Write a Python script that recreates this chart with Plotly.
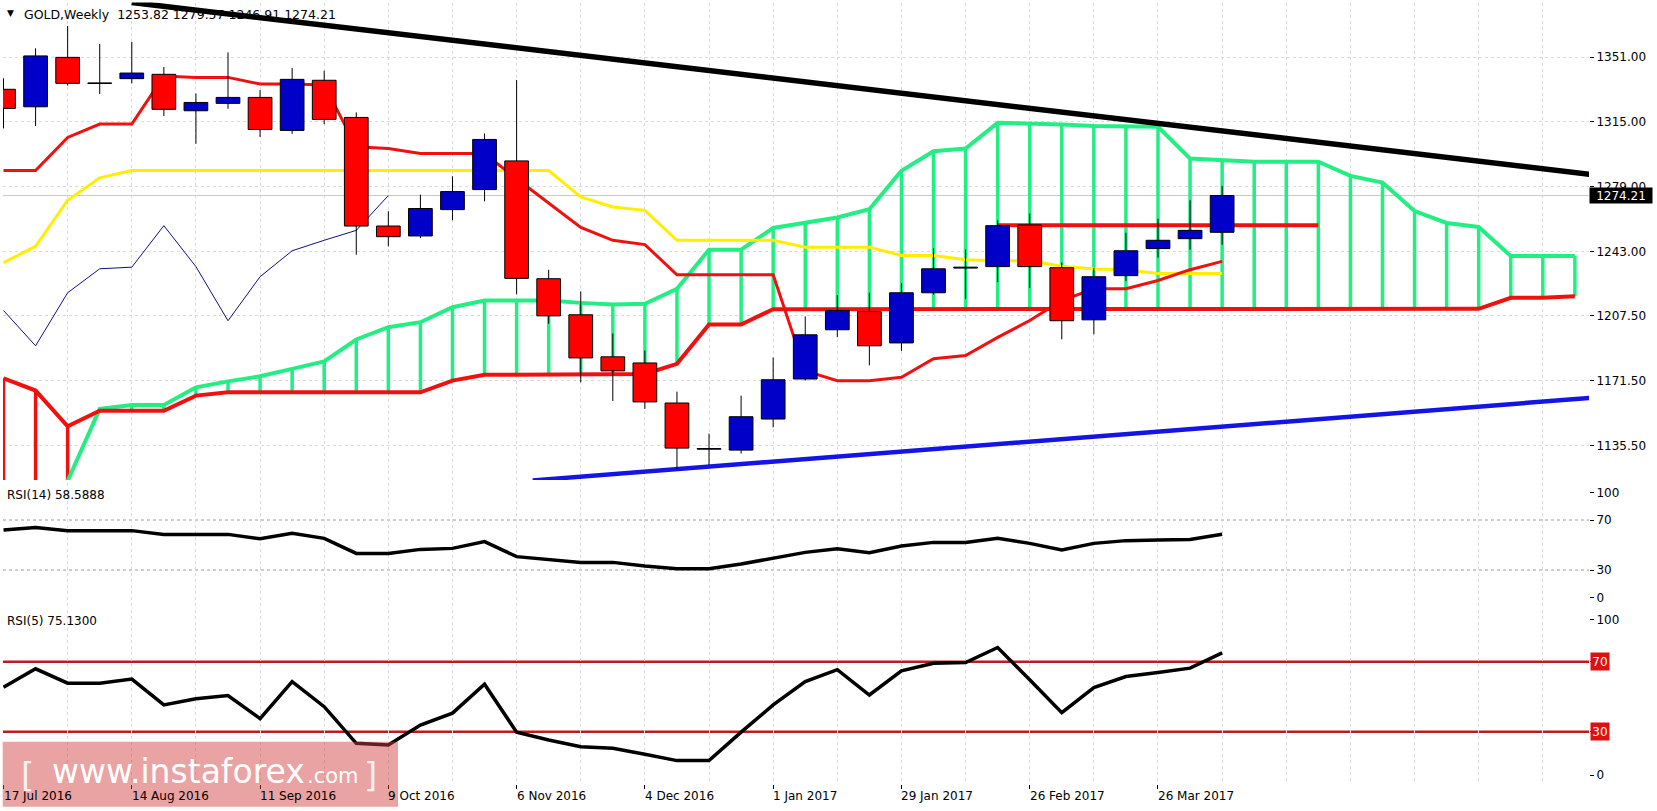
import plotly.graph_objects as go

# ---------------- data ----------------
date_labels = ["17 Jul 2016", "14 Aug 2016", "11 Sep 2016", "9 Oct 2016", "6 Nov 2016",
               "4 Dec 2016", "1 Jan 2017", "29 Jan 2017", "26 Feb 2017", "26 Mar 2017"]
date_bar = [0, 4, 8, 12, 16, 20, 24, 28, 32, 36]

opens = [1333.1, 1323.4, 1350.8, 1336.3, 1339.0, 1341.4, 1321.2, 1325.3, 1328.6, 1310.3,
         1338.1, 1317.5, 1257.3, 1251.8, 1266.4, 1277.5, 1293.4, 1228.1, 1208.1, 1184.8,
         1181.4, 1159.2, 1133.6, 1133.1, 1150.3, 1172.5, 1199.8, 1209.9, 1192.5, 1220.3,
         1234.0, 1234.8, 1257.9, 1234.2, 1205.3, 1229.8, 1244.8, 1250.3, 1253.82]
highs = [1339.2, 1355.8, 1368.2, 1358.2, 1359.3, 1345.4, 1330.8, 1353.6, 1332.7, 1344.9,
         1343.4, 1320.3, 1265.5, 1274.7, 1284.9, 1308.6, 1338.2, 1233.1, 1221.0, 1197.7,
         1188.3, 1165.5, 1142.2, 1163.3, 1184.4, 1207.2, 1219.0, 1220.3, 1225.6, 1244.9,
         1244.3, 1260.5, 1264.2, 1237.0, 1234.0, 1253.6, 1261.4, 1271.6, 1279.57]
lows = [1311.4, 1312.7, 1335.1, 1330.5, 1336.4, 1318.2, 1302.9, 1322.3, 1306.7, 1308.4,
        1313.8, 1241.4, 1246.0, 1250.6, 1260.5, 1271.0, 1219.4, 1203.1, 1170.7, 1160.3,
        1155.9, 1122.7, 1124.9, 1131.2, 1145.7, 1171.6, 1195.7, 1180.1, 1188.1, 1219.2,
        1216.8, 1226.2, 1222.9, 1194.5, 1197.3, 1226.8, 1239.8, 1244.2, 1246.91]
closes = [1322.5, 1351.6, 1336.4, 1336.6, 1342.1, 1322.0, 1325.8, 1328.6, 1310.8, 1338.6,
          1316.4, 1257.3, 1251.4, 1267.0, 1276.4, 1305.3, 1228.3, 1207.5, 1184.2, 1177.0,
          1159.8, 1134.2, 1133.9, 1151.6, 1172.1, 1197.0, 1210.5, 1190.9, 1220.3, 1233.6,
          1234.5, 1257.5, 1234.8, 1204.8, 1229.2, 1243.6, 1249.4, 1254.9, 1274.21]

tenkan = [1288.1, 1288.1, 1306.4, 1313.8, 1313.8, 1340.4, 1339.7, 1339.7, 1336.0, 1336.0,
          1335.5, 1301.2, 1300.3, 1297.5, 1297.5, 1297.5, 1283.5, 1270.0, 1256.5, 1249.4,
          1247.0, 1230.3, 1230.3, 1230.3, 1230.3, 1177.0, 1171.6, 1171.6, 1173.5, 1183.7,
          1185.5, 1195.6, 1204.9, 1216.0, 1222.5, 1222.5, 1227.1, 1233.1, 1237.7]
kijun = [1237.0, 1246.0, 1271.6, 1284.0, 1288.1, 1288.1, 1288.1, 1288.1, 1288.1, 1288.1,
         1288.1, 1288.1, 1288.1, 1288.1, 1288.1, 1288.1, 1288.1, 1288.1, 1273.4, 1267.9,
         1266.0, 1249.4, 1249.4, 1249.4, 1249.4, 1245.6, 1245.6, 1245.6, 1241.0, 1241.0,
         1238.6, 1238.0, 1238.0, 1235.0, 1233.5, 1233.0, 1231.0, 1231.0, 1231.0]
span_a = [1100.0, 1108.0, 1116.0, 1155.9, 1158.1, 1158.1, 1167.9, 1171.2, 1174.0, 1178.1,
          1182.3, 1194.4, 1201.2, 1204.0, 1212.3, 1216.0, 1216.0, 1216.0, 1214.7, 1213.8,
          1214.2, 1222.5, 1244.2, 1244.2, 1256.2, 1259.0, 1262.0, 1266.6, 1287.9, 1298.8,
          1300.3, 1314.5, 1314.2, 1313.6, 1312.8, 1312.8, 1312.3, 1294.7, 1293.8, 1292.9,
          1293.0, 1293.0, 1285.1, 1281.4, 1265.6, 1259.0, 1256.8, 1240.7, 1240.7, 1240.7]
span_b = [1172.9, 1166.1, 1146.3, 1154.9, 1154.9, 1154.9, 1163.3, 1165.1, 1165.1, 1165.1,
          1165.1, 1165.1, 1165.1, 1165.1, 1171.6, 1174.9, 1174.9, 1174.9, 1174.9, 1174.9,
          1175.3, 1180.9, 1202.7, 1202.7, 1211.2, 1211.2, 1211.2, 1211.2, 1211.2, 1211.2,
          1211.2, 1211.2, 1211.2, 1211.2, 1211.2, 1211.2, 1211.2, 1211.2, 1211.2, 1211.2,
          1211.2, 1211.2, 1211.2, 1211.2, 1211.2, 1211.2, 1211.4, 1217.5, 1217.5, 1218.4]
chikou_shift = 26

rsi14 = [62.0, 64.0, 61.5, 61.5, 61.5, 58.5, 58.5, 58.5, 55.0, 59.3,
         55.3, 43.3, 43.3, 46.5, 47.3, 52.7, 40.7, 38.5, 36.1, 36.1,
         33.2, 31.1, 31.1, 34.8, 39.3, 44.1, 47.0, 43.9, 49.2, 52.1,
         52.1, 55.3, 51.3, 46.0, 51.3, 53.5, 54.0, 54.5, 58.5888]
rsi5 = [55.5, 66.0, 57.8, 57.8, 60.1, 45.3, 48.8, 50.7, 37.5, 58.7,
        44.3, 23.3, 22.4, 33.8, 40.6, 57.2, 29.7, 25.2, 21.4, 20.5,
        17.0, 13.4, 13.4, 29.7, 45.3, 58.7, 65.5, 51.0, 64.8, 69.2,
        69.6, 78.2, 59.7, 40.9, 55.3, 61.6, 63.9, 66.4, 75.13]

trend_down_x = [4.0, 49.46]
trend_down_y = [1381.2, 1286.0]
trend_up_x = [16.5, 49.46]
trend_up_y = [1116.3, 1162.0]
resist_x = [31, 41]
resist_y = [1257.7, 1257.7]

price_ticks = [1351.00, 1315.00, 1279.00, 1243.00, 1207.50, 1171.50, 1135.50]
last_price = 1274.21
ohlc_title = "GOLD,Weekly&nbsp;&nbsp;1253.82 1279.57 1246.91 1274.21"
rsi14_title = "RSI(14) 58.5888"
rsi5_title = "RSI(5) 75.1300"
rsi_levels = [70, 30]

# ---------------- styling / geometry ----------------
W, H = 1657, 811
ML, MR, MT, MB = 3, 68, 2, 27
PW = W - ML - MR
PH = H - MT - MB


def px_x(x):
    return (x - ML) / PW


def px_y(y):
    return (H - MB - y) / PH


FONT = "DejaVu Sans, Verdana, sans-serif"
GREEN = "#22ee84"
RED = "#f01010"
CANDLE_RED = "#ff0000"
CANDLE_BLUE = "#0000c8"
YELLOW = "#ffee00"
GRIDC = "#dadada"
X_RANGE = [-0.016, 49.44]

fig = go.Figure()

# --- cloud hatching ---
cloud_i = list(range(len(span_a)))
gx, gy, rx, ry = [], [], [], []
for i, a, b in zip(cloud_i, span_a, span_b):
    if a >= b:
        gx += [i, i, None]
        gy += [a, b, None]
    else:
        rx += [i, i, None]
        ry += [a, b, None]
fig.add_trace(go.Scatter(x=gx, y=gy, mode="lines", line=dict(color=GREEN, width=3.5),
                         xaxis="x", yaxis="y", zorder=0))
fig.add_trace(go.Scatter(x=rx, y=ry, mode="lines", line=dict(color=RED, width=3.5),
                         xaxis="x", yaxis="y", zorder=0))
fig.add_trace(go.Scatter(x=cloud_i, y=span_a, mode="lines", line=dict(color=GREEN, width=4),
                         xaxis="x", yaxis="y", zorder=1))
fig.add_trace(go.Scatter(x=cloud_i, y=span_b, mode="lines", line=dict(color=RED, width=4),
                         xaxis="x", yaxis="y", zorder=1))

bar_i = list(range(len(closes)))
fig.add_trace(go.Scatter(x=bar_i, y=kijun, mode="lines", line=dict(color=YELLOW, width=3),
                         xaxis="x", yaxis="y", zorder=1))
fig.add_trace(go.Scatter(x=bar_i, y=tenkan, mode="lines", line=dict(color=RED, width=3),
                         xaxis="x", yaxis="y", zorder=1))
chikou = closes[chikou_shift:]
fig.add_trace(go.Scatter(x=bar_i[:len(chikou)], y=chikou, mode="lines",
                         line=dict(color="#101080", width=1), xaxis="x", yaxis="y", zorder=1))
fig.add_trace(go.Scatter(x=resist_x, y=resist_y, mode="lines", line=dict(color=RED, width=4),
                         xaxis="x", yaxis="y", zorder=1))
fig.add_trace(go.Scatter(x=trend_down_x, y=trend_down_y, mode="lines",
                         line=dict(color="black", width=5.5), xaxis="x", yaxis="y", zorder=2))
fig.add_trace(go.Scatter(x=trend_up_x, y=trend_up_y, mode="lines",
                         line=dict(color="#1414e6", width=4.5), xaxis="x", yaxis="y", zorder=2))

# --- candles ---
wx, wy = [], []
for i, h, l in zip(bar_i, highs, lows):
    wx += [i, i, None]
    wy += [l, h, None]
fig.add_trace(go.Scatter(x=wx, y=wy, mode="lines", line=dict(color="black", width=1),
                         xaxis="x", yaxis="y", zorder=4))
body_base = [min(o, c) for o, c in zip(opens, closes)]
body_h = [max(abs(c - o), 0.35) for o, c in zip(opens, closes)]
body_col = [CANDLE_BLUE if c >= o else CANDLE_RED for o, c in zip(opens, closes)]
fig.add_trace(go.Bar(x=bar_i, y=body_h, base=body_base, width=0.74,
                     marker=dict(color=body_col, line=dict(color="black", width=1)),
                     xaxis="x", yaxis="y", zorder=5))

# --- RSI ---
fig.add_trace(go.Scatter(x=bar_i, y=rsi14, mode="lines", line=dict(color="black", width=3.5),
                         xaxis="x2", yaxis="y2"))
fig.add_trace(go.Scatter(x=bar_i, y=rsi5, mode="lines", line=dict(color="black", width=3.5),
                         xaxis="x3", yaxis="y3"))

# ---------------- layout ----------------
even_ticks = list(range(0, 50, 2))
minor_ticks = [t for t in even_ticks if t not in date_bar]
box = dict(showline=True, linecolor="black", linewidth=1, mirror=True, zeroline=False,
           fixedrange=True)
xgrid = dict(showgrid=True, gridcolor=GRIDC, griddash="3px,3px", gridwidth=1)

layout_axes = dict(
    xaxis=dict(range=X_RANGE, anchor="y", tickvals=even_ticks, ticks="",
               showticklabels=False, **xgrid, **box),
    xaxis2=dict(range=X_RANGE, anchor="y2", matches="x", tickvals=even_ticks, ticks="",
                showticklabels=False, **xgrid, **box),
    xaxis3=dict(range=X_RANGE, anchor="y3", matches="x", tickvals=date_bar, ticks="outside",
                ticklen=4, tickcolor="black", showticklabels=False,
                minor=dict(tickvals=minor_ticks, showgrid=True, gridcolor=GRIDC,
                           griddash="3px,3px", ticks=""),
                **xgrid, **box),
    yaxis=dict(domain=[px_y(480), px_y(2.5)], range=[1116.52, 1381.21], side="right",
               anchor="x", tickvals=price_ticks, ticktext=[f"{v:.2f}" for v in price_ticks],
               ticks="outside", ticklen=4, tickcolor="black", showgrid=True,
               gridcolor=GRIDC, griddash="3px,3px", automargin=False,
               tickfont=dict(family=FONT, size=12, color="black"), **box),
    yaxis2=dict(domain=[px_y(607.5), px_y(482.5)], range=[0, 100], side="right",
                anchor="x2", tickvals=[92, 70, 30, 8], ticktext=["100", "70", "30", "0"],
                ticks="outside", ticklen=4, tickcolor="black", showgrid=False,
                automargin=False, tickfont=dict(family=FONT, size=12, color="black"), **box),
    yaxis3=dict(domain=[px_y(784), px_y(609.5)], range=[0, 100], side="right",
                anchor="x3", tickvals=[94, 70, 30, 5], ticktext=["100", "", "", "0"],
                ticks="outside", ticklen=4, tickcolor="black", showgrid=False,
                automargin=False, tickfont=dict(family=FONT, size=12, color="black"), **box),
)

shapes = [
    dict(type="line", xref="x domain", x0=0, x1=1, yref="y", y0=last_price, y1=last_price,
         line=dict(color="#c8c8dc", width=1), layer="below"),
]
for lv in rsi_levels:
    shapes.append(dict(type="line", xref="x2 domain", x0=0, x1=1, yref="y2", y0=lv, y1=lv,
                       line=dict(color="#9a9a9a", width=1, dash="dot"), layer="below"))
    shapes.append(dict(type="line", xref="x3 domain", x0=0, x1=1, yref="y3", y0=lv, y1=lv,
                       line=dict(color="#bb1c1c", width=2.5), layer="below"))
shapes.append(dict(type="rect", xref="paper", yref="paper", x0=px_x(2.7), x1=px_x(398),
                   y0=px_y(806.7), y1=px_y(741.7), fillcolor="rgba(208,62,62,0.48)",
                   line=dict(width=0), layer="above"))

ann = []
for lab, b in zip(date_labels, date_bar):
    ann.append(dict(x=b, xref="x3", y=0, yref="paper", yanchor="top", xanchor="left",
                    xshift=-2, yshift=-3, text=lab, showarrow=False,
                    font=dict(family=FONT, size=12, color="black")))
ann.append(dict(x=1, xref="paper", y=last_price, yref="y", xanchor="left", yanchor="middle",
                text=f"{last_price:.2f}", showarrow=False, bgcolor="black", width=62, height=15,
                borderpad=0, align="center", font=dict(family=FONT, size=12, color="white")))
for lv in rsi_levels:
    ann.append(dict(x=1, xref="paper", y=lv, yref="y3", xanchor="left", yanchor="middle",
                    xshift=1, text=str(lv), showarrow=False, bgcolor="#dd1111", width=18,
                    height=17, borderpad=0, font=dict(family=FONT, size=12, color="white")))
ann.append(dict(x=px_x(5), xref="paper", y=px_y(13.5), yref="paper", xanchor="left",
                yanchor="middle", text="▼", showarrow=False,
                font=dict(family=FONT, size=9, color="black")))
ann.append(dict(x=px_x(22), xref="paper", y=px_y(14), yref="paper", xanchor="left",
                yanchor="middle", text=ohlc_title, showarrow=False,
                font=dict(family=FONT, size=12.5, color="black")))
ann.append(dict(x=px_x(5), xref="paper", y=px_y(495), yref="paper", xanchor="left",
                yanchor="middle", text=rsi14_title, showarrow=False,
                font=dict(family=FONT, size=12, color="black")))
ann.append(dict(x=px_x(5), xref="paper", y=px_y(621), yref="paper", xanchor="left",
                yanchor="middle", text=rsi5_title, showarrow=False,
                font=dict(family=FONT, size=12, color="black")))
# watermark text
ann.append(dict(x=px_x(19), xref="paper", y=px_y(775), yref="paper", xanchor="left",
                yanchor="middle", text="[", showarrow=False,
                font=dict(family=FONT, size=34, color="rgba(255,255,255,0.85)")))
ann.append(dict(x=px_x(50), xref="paper", y=px_y(771), yref="paper", xanchor="left",
                yanchor="middle", text="www.instaforex", showarrow=False,
                font=dict(family=FONT, size=33, color="white")))
ann.append(dict(x=px_x(305), xref="paper", y=px_y(776), yref="paper", xanchor="left",
                yanchor="middle", text=".com", showarrow=False,
                font=dict(family=FONT, size=21, color="white")))
ann.append(dict(x=px_x(362), xref="paper", y=px_y(775), yref="paper", xanchor="left",
                yanchor="middle", text="]", showarrow=False,
                font=dict(family=FONT, size=34, color="rgba(255,255,255,0.85)")))

fig.update_layout(
    width=W, height=H,
    margin=dict(l=ML, r=MR, t=MT, b=MB, autoexpand=False),
    paper_bgcolor="white", plot_bgcolor="white",
    showlegend=False, barmode="overlay", hovermode=False,
    font=dict(family=FONT, size=12, color="black"),
    shapes=shapes, annotations=ann,
    **layout_axes,
)

fig.write_html("out.html", config={"displayModeBar": False})
